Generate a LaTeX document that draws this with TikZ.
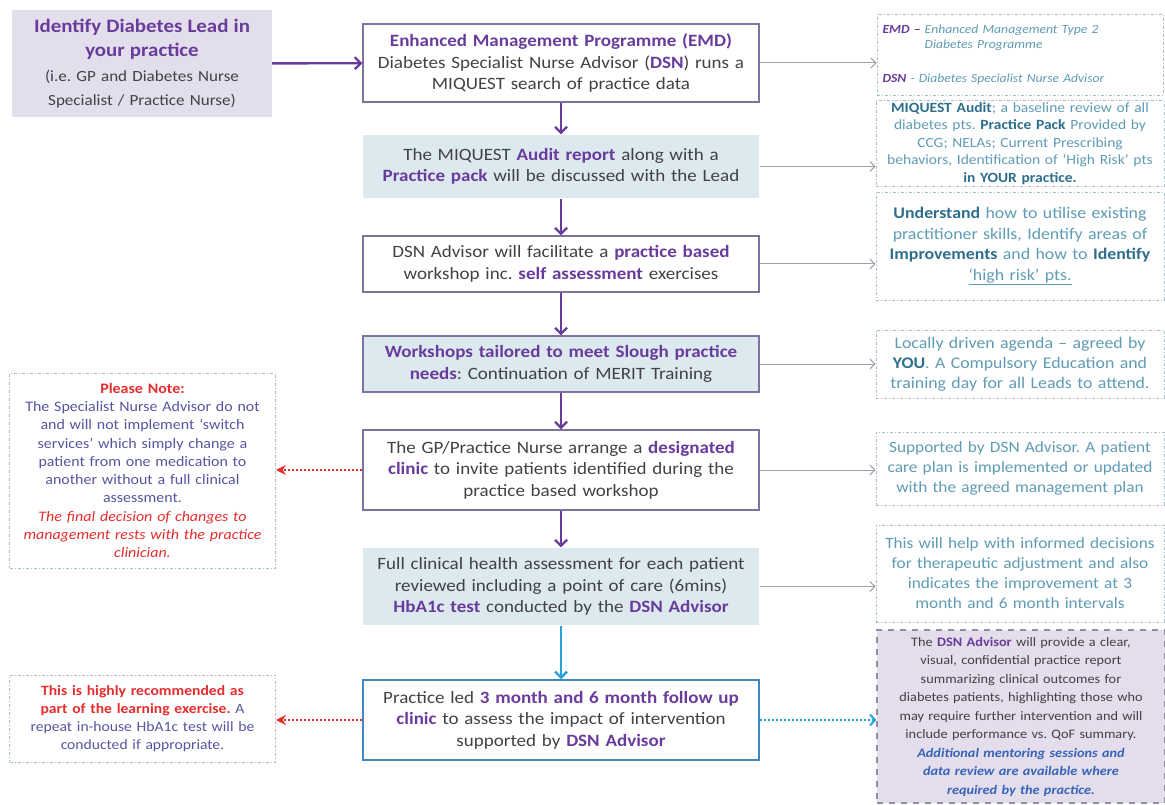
\documentclass[tikz,border=0pt]{standalone}
\usepackage{fontspec}
\setmainfont{Carlito}[FakeStretch=1.1]
\usetikzlibrary{arrows.meta}
\frenchspacing
\definecolor{purp}{RGB}{105,60,155}
\definecolor{maintext}{RGB}{65,65,70}
\definecolor{boxline}{RGB}{125,115,160}
\definecolor{boxblue}{RGB}{220,233,239}
\definecolor{leadfill}{RGB}{226,222,236}
\definecolor{tealtext}{RGB}{95,155,180}
\definecolor{tealdark}{RGB}{45,110,140}
\definecolor{dashline}{RGB}{165,188,202}
\definecolor{notered}{RGB}{228,45,45}
\definecolor{noteblue}{RGB}{85,85,160}
\definecolor{arrgray}{RGB}{160,160,172}
\definecolor{lavfill}{RGB}{228,221,235}
\definecolor{lavline}{RGB}{150,140,160}
\definecolor{addblue}{RGB}{55,100,185}
\definecolor{flowblue}{RGB}{40,160,220}
\definecolor{boxblueline}{RGB}{65,135,195}
\newcommand{\purpb}[1]{\textbf{\textcolor{purp}{#1}}}
\newcommand{\tealb}[1]{\textbf{\textcolor{tealdark}{#1}}}
\begin{document}
\begin{tikzpicture}[x=1pt,y=-1pt,
  mainbox/.style={draw=boxline, line width=1.1pt, minimum width=396pt, inner sep=2pt,
    text width=392pt, align=center, text=maintext, font=\fontsize{17.3pt}{21.5pt}\selectfont},
  bluebox/.style={mainbox, fill=boxblue},
  sidebox/.style={draw=dashline, line width=0.8pt, dash pattern=on 3pt off 2pt on 1pt off 2pt,
    minimum width=286pt, inner sep=2pt, text width=284pt, align=center, text=tealtext,
    font=\fontsize{16pt}{20pt}\selectfont},
  notebox/.style={draw=dashline, line width=0.8pt, dash pattern=on 3pt off 2pt on 1pt off 2pt,
    minimum width=265pt, inner sep=2pt, text width=262pt, align=center, text=noteblue,
    font=\fontsize{14.5pt}{18.3pt}\selectfont},
  parrow/.style={draw=purp, line width=2.4pt, -{Straight Barb[length=6pt,width=12pt]}},
  garrow/.style={draw=arrgray, line width=1pt, -{Straight Barb[length=5pt,width=10pt]}},
  rarrow/.style={draw=notered, line width=2pt, dotted, -{Stealth[length=10pt,width=10pt]}},
  barrow/.style={draw=flowblue, line width=2pt, dotted, -{Straight Barb[length=5pt,width=11pt]}}
]
\useasboundingbox (0,0) rectangle (1165,805);

% left lead box
\node[fill=leadfill, minimum width=260pt, minimum height=107pt, text width=256pt, align=center,
  inner sep=2pt, text=maintext, font=\fontsize{15.5pt}{23.5pt}\selectfont] (b0) at (142,63.5)
  {{\fontsize{19pt}{23.5pt}\selectfont\purpb{Identify Diabetes Lead in\\ your practice}}\\[2pt]
   (i.e. GP and Diabetes Nurse\\ Specialist / Practice Nurse)};

% main column
\node[mainbox, minimum height=78pt] (b1) at (561,63)
  {\purpb{Enhanced Management Programme (EMD)}\\
   Diabetes Specialist Nurse Advisor (\purpb{DSN}) runs a\\ MIQUEST search of practice data};
\node[bluebox, draw=none, minimum height=63pt] (b2) at (561,166.5)
  {The MIQUEST \purpb{Audit report} along with a\\ \purpb{Practice pack} will be discussed with the Lead};
\node[mainbox, minimum height=56pt] (b3) at (561,264)
  {DSN Advisor will facilitate a \purpb{practice based}\\ workshop inc. \purpb{self assessment} exercises};
\node[bluebox, minimum height=56pt] (b4) at (561,364)
  {\purpb{Workshops tailored to meet Slough practice}\\ \purpb{needs}: Continuation of MERIT Training};
\node[mainbox, minimum height=80pt] (b5) at (561,470)
  {The GP/Practice Nurse arrange a \purpb{designated}\\ \purpb{clinic} to invite patients identified during the\\ practice based workshop};
\node[bluebox, draw=none, minimum height=77pt] (b6) at (561,586.5)
  {Full clinical health assessment for each patient\\ reviewed including a point of care (6mins)\\ \purpb{HbA1c test} conducted by the \purpb{DSN Advisor}};
\node[mainbox, draw=boxblueline, line width=1.5pt, minimum height=80pt] (b7) at (561,720)
  {Practice led \purpb{3 month and 6 month follow up}\\ \purpb{clinic} to assess the impact of intervention\\ supported by \purpb{DSN Advisor}};

% right column
\node[sidebox, minimum height=81pt, align=left, text width=275pt,
  font=\fontsize{12.4pt}{15pt}\selectfont\itshape] (r1) at (1020,54.5)
  {\textbf{\textcolor{purp}{EMD –}} Enhanced Management Type 2\\
   \hspace*{3.4em}Diabetes Programme\\[19pt]
   \textbf{\textcolor{purp}{DSN}} - Diabetes Specialist Nurse Advisor};
\node[sidebox, minimum height=79pt, font=\fontsize{14.1pt}{17.5pt}\selectfont] (r2) at (1020,143.5)
  {\tealb{MIQUEST Audit}; a baseline review of all\\ diabetes pts. \tealb{Practice Pack} Provided by\\
   CCG; NELAs; Current Prescribing\\ behaviors, Identification of `High Risk' pts\\ \tealb{in YOUR practice.}};
\node[sidebox, minimum height=108pt, font=\fontsize{16.2pt}{20.5pt}\selectfont] (r3) at (1020,246)
  {\tealb{Understand} how to utilise existing\\ practitioner skills, Identify areas of\\
   \tealb{Improvements} and how to \tealb{Identify}\\ \underline{`high risk' pts.}};
\node[sidebox, minimum height=68pt, font=\fontsize{16.2pt}{20pt}\selectfont] (r4) at (1020,364)
  {Locally driven agenda – agreed by\\ \tealb{YOU}. A Compulsory Education and\\ training day for all Leads to attend.};
\node[sidebox, minimum height=73pt, font=\fontsize{15.7pt}{20pt}\selectfont] (r5) at (1020,468.5)
  {Supported by DSN Advisor. A patient\\ care plan is implemented or updated\\ with the agreed management plan};
\node[sidebox, minimum height=97pt, font=\fontsize{15.7pt}{20pt}\selectfont] (r6) at (1020,573.5)
  {This will help with informed decisions\\ for therapeutic adjustment and also\\ indicates the improvement at 3\\ month and 6 month intervals};
\node[fill=lavfill, draw=lavline, line width=1.2pt, dash pattern=on 6pt off 6pt,
  minimum width=288pt, minimum height=173pt, inner sep=2pt, text width=284pt, align=center,
  text=maintext, font=\fontsize{13pt}{18.5pt}\selectfont] (r7) at (1021,716.5)
  {The \purpb{DSN Advisor} will provide a clear,\\ visual, confidential practice report\\
   summarizing clinical outcomes for\\ diabetes patients, highlighting those who\\
   may require further intervention and will\\ include performance vs. QoF summary.\\
   \textcolor{addblue}{\textbf{\textit{Additional mentoring sessions and\\ data review are available where\\ required by the practice.}}}};

% left notes
\node[notebox, minimum height=195pt] (l1) at (142.5,470.5)
  {\textcolor{notered}{\textbf{Please Note:}}\\ The Specialist Nurse Advisor do not\\ and will not implement `switch\\
   services' which simply change a\\ patient from one medication to\\ another without a full clinical\\
   assessment.\\ \textcolor{notered}{\itshape The final decision of changes to\\ management rests with the practice\\ clinician.}};
\node[notebox, minimum height=87pt, font=\fontsize{14.2pt}{18pt}\selectfont] (l2) at (142.5,718.5)
  {\textcolor{notered}{\textbf{This is highly recommended as\\ part of the learning exercise.}} A\\
   repeat in-house HbA1c test will be\\ conducted if appropriate.};

% flow arrows
\draw[parrow] (b0) -- (b1);
\draw[parrow] (b1) -- (b2);
\draw[parrow] (b2) -- (b3);
\draw[parrow] (b3) -- (b4);
\draw[parrow] (b4) -- (b5);
\draw[parrow] (b5) -- (b6);
\draw[parrow, draw=flowblue] (b6) -- (b7);

% side arrows
\draw[garrow] (b1.east) -- (b1.east -| r1.west);
\draw[garrow] (b2.east) -- (b2.east -| r2.west);
\draw[garrow] (b3.east) -- (b3.east -| r3.west);
\draw[garrow] (b4.east) -- (b4.east -| r4.west);
\draw[garrow] (b5.east) -- (b5.east -| r5.west);
\draw[garrow] (b6.east) -- (b6.east -| r6.west);
\draw[barrow] (b7.east) -- (b7.east -| r7.west);
\draw[rarrow] (b5.west) -- (b5.west -| l1.east);
\draw[rarrow] (b7.west) -- (b7.west -| l2.east);
\end{tikzpicture}
\end{document}
